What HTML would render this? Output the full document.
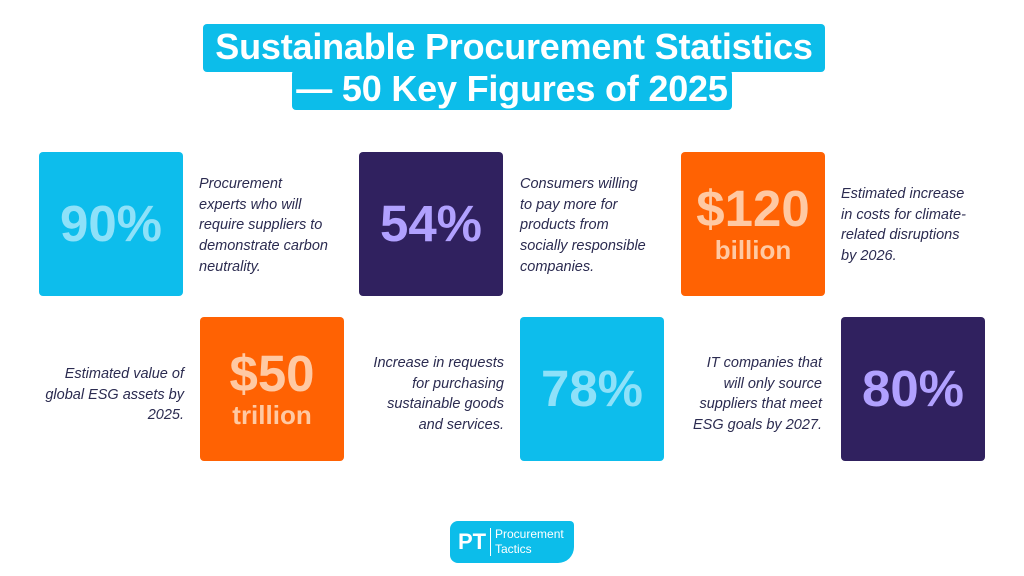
<!DOCTYPE html>
<html><head><meta charset="utf-8"><style>
body{margin:0;width:1024px;height:576px;background:#fff;position:relative;overflow:hidden;font-family:"Liberation Sans","DejaVu Sans",sans-serif}
.t{position:absolute;background:#0cbdea;color:#fff;font-weight:bold;font-size:36px;text-align:center;border-radius:4px;line-height:46px;letter-spacing:-0.2px;white-space:nowrap}
.c{position:absolute;width:144px;height:144px;border-radius:4px;display:flex;flex-direction:column;align-items:center;justify-content:center;font-weight:bold;text-align:center}
.cy{background:#0dbdec;color:#8ee1f9}.pu{background:#30215f;color:#b1a1ff}.or{background:#ff6203;color:#ffc9a3}
.n{font-size:51px;line-height:52px}.s{font-size:26px;line-height:30px}
.d{position:absolute;width:160px;font-style:italic;font-size:14.5px;line-height:20.7px;color:#2b2b50;white-space:nowrap}
.r{text-align:right}
</style></head><body>
<div class="t" style="left:203px;top:24px;width:622px;height:48px">Sustainable Procurement Statistics</div>
<div class="t" style="left:292px;top:70px;width:440px;height:40px;line-height:38px">— 50 Key Figures of 2025</div>

<div class="c cy" style="left:39px;top:152px"><div class="n">90%</div></div>
<div class="d" style="left:199px;top:174px">Procurement<br>experts who will<br>require suppliers to<br>demonstrate carbon<br>neutrality.</div>
<div class="c pu" style="left:359px;top:152px"><div class="n">54%</div></div>
<div class="d" style="left:520px;top:174px">Consumers willing<br>to pay more for<br>products from<br>socially responsible<br>companies.</div>
<div class="c or" style="left:681px;top:152px"><div class="n">$120</div><div class="s">billion</div></div>
<div class="d" style="left:841px;top:184px">Estimated increase<br>in costs for climate-<br>related disruptions<br>by 2026.</div>

<div class="d r" style="left:24px;top:364px">Estimated value of<br>global ESG assets by<br>2025.</div>
<div class="c or" style="left:200px;top:317px"><div class="n">$50</div><div class="s">trillion</div></div>
<div class="d r" style="left:344px;top:353px">Increase in requests<br>for purchasing<br>sustainable goods<br>and services.</div>
<div class="c cy" style="left:520px;top:317px"><div class="n">78%</div></div>
<div class="d r" style="left:662px;top:353px">IT companies that<br>will only source<br>suppliers that meet<br>ESG goals by 2027.</div>
<div class="c pu" style="left:841px;top:317px"><div class="n">80%</div></div>

<div style="position:absolute;left:450px;top:521px;width:124px;height:42px;background:#0cbdea;border-radius:8px 4px 16px 8px;color:#fff">
<div style="position:absolute;left:8px;top:9px;font-weight:bold;font-size:22px;line-height:24px">PT</div>
<div style="position:absolute;left:40px;top:7px;width:1px;height:28px;background:#fff"></div>
<div style="position:absolute;left:45px;top:6px;font-size:12px;line-height:15px">Procurement<br>Tactics</div>
</div>
</body></html>
